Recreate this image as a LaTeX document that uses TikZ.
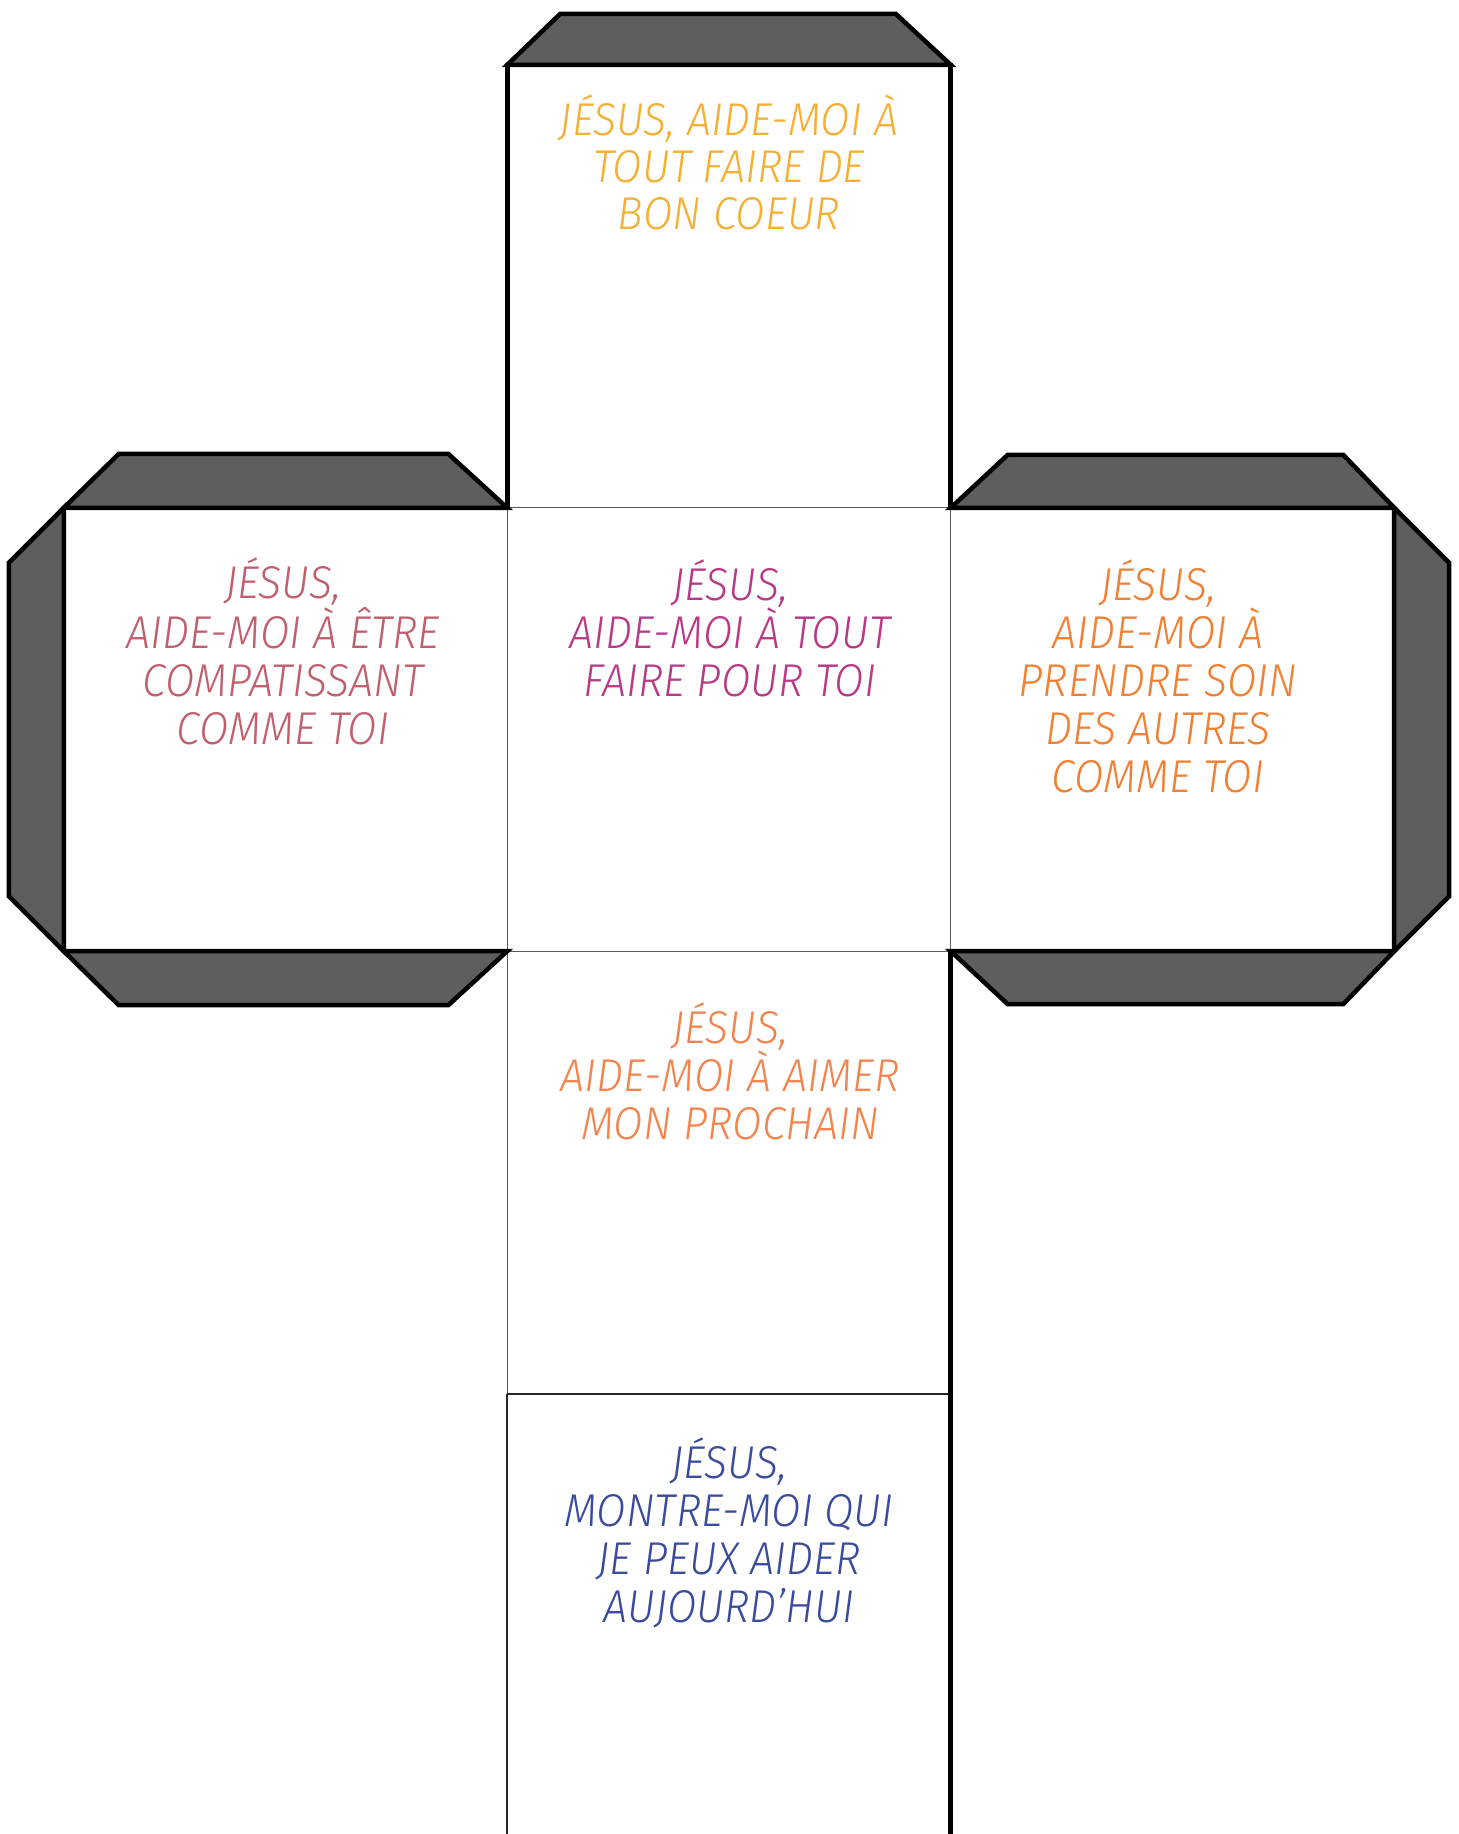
\documentclass[tikz,border=0pt]{standalone}
\usepackage{fontspec}
\newfontfamily\hand{Fira Sans Light Italic}[FakeStretch=0.93]
\definecolor{flapgray}{HTML}{5E5E5E}
\definecolor{cTop}{HTML}{F5B033}
\definecolor{cLeft}{HTML}{C0606F}
\definecolor{cMid}{HTML}{B83A87}
\definecolor{cRight}{HTML}{F28033}
\definecolor{cBotA}{HTML}{F2844E}
\definecolor{cBotB}{HTML}{3B4B9C}
\begin{document}
\begin{tikzpicture}[x=1pt,y=-1pt,
  face/.style={minimum width=443pt,minimum height=443pt,inner sep=0pt,draw=none},
  flap/.style={fill=flapgray,draw=black,line width=4.5pt,line join=miter},
  thinline/.style={draw=black!65,line width=1pt},
  midline/.style={draw=black!85,line width=2.2pt},
  heavyline/.style={draw=black,line width=4.5pt},
  msg/.style={align=center,inner sep=0pt,anchor=base,font=\hand\fontsize{46}{48}\selectfont}]
\useasboundingbox (0,0) rectangle (1459,1834);
\fill[white] (0,0) rectangle (1459,1834);
% faces
\node[face] (T) at (729,286.5) {};
\node[face] (C) at (729,729.5) {};
\node[face] (L) at (285.5,729.5) {};
\node[face] (R) at (1172.5,729.5) {};
\node[face] (B1) at (729,1172.5) {};
\node[face] (B2) at (729,1615.5) {};
% thin inner lines
\draw[thinline] (C.north west) rectangle (C.south east);
\draw[thinline] (B1.north west) -- (B1.south west);
\draw[midline] (B1.south west) -- (B1.south east);
\draw[midline] (B2.north west) -- (B2.south west);
% heavy outer lines
\draw[heavyline] (T.south west) -- (T.north west) -- (T.north east) -- (T.south east);
\draw[heavyline] (B1.north east) -- (B1.south east);
\draw[heavyline,line width=5.5pt] (B2.north east) -- (B2.south east);
\draw[heavyline] (L.north west) -- (L.south west);
\draw[heavyline] (R.north east) -- (R.south east);
% flaps
\draw[flap] (T.north west) -- ++(53,-51) -- ([xshift=-55pt,yshift=51pt]T.north east) -- (T.north east) -- cycle;
\draw[flap] (L.north west) -- ++(55,-54) -- ([xshift=-59pt,yshift=54pt]L.north east) -- (L.north east) -- cycle;
\draw[flap] (L.south west) -- ++(55,54) -- ([xshift=-59pt,yshift=-54pt]L.south east) -- (L.south east) -- cycle;
\draw[flap] (L.north west) -- ++(-55,55) -- ([xshift=-55pt,yshift=55pt]L.south west) -- (L.south west) -- cycle;
\draw[flap] (R.north west) -- ++(57,-53) -- ([xshift=-51pt,yshift=53pt]R.north east) -- (R.north east) -- cycle;
\draw[flap] (R.south west) -- ++(57,53) -- ([xshift=-51pt,yshift=-53pt]R.south east) -- (R.south east) -- cycle;
\draw[flap] (R.north east) -- ++(55,55) -- ([xshift=55pt,yshift=55pt]R.south east) -- (R.south east) -- cycle;
% texts (anchor base = baseline of last line)
\node[msg,text=cTop,font=\hand\fontsize{46}{47}\selectfont] (tT) at (729,229) {JÉSUS, AIDE-MOI À\\TOUT FAIRE DE\\BON COEUR};
\node[msg,text=cLeft] (tL) at (283,744) {JÉSUS,\\AIDE-MOI À ÊTRE\\COMPATISSANT\\COMME TOI};
\node[msg,text=cMid] (tC) at (730,696) {JÉSUS,\\AIDE-MOI À TOUT\\FAIRE POUR TOI};
\node[msg,text=cRight] (tR) at (1158,792) {JÉSUS,\\AIDE-MOI À\\PRENDRE SOIN\\DES AUTRES\\COMME TOI};
\node[msg,text=cBotA] (tB1) at (730,1139) {JÉSUS,\\AIDE-MOI À AIMER\\MON PROCHAIN};
\node[msg,text=cBotB] (tB2) at (729,1622) {JÉSUS,\\MONTRE-MOI QUI\\JE PEUX AIDER\\AUJOURD’HUI};
\end{tikzpicture}
\end{document}
